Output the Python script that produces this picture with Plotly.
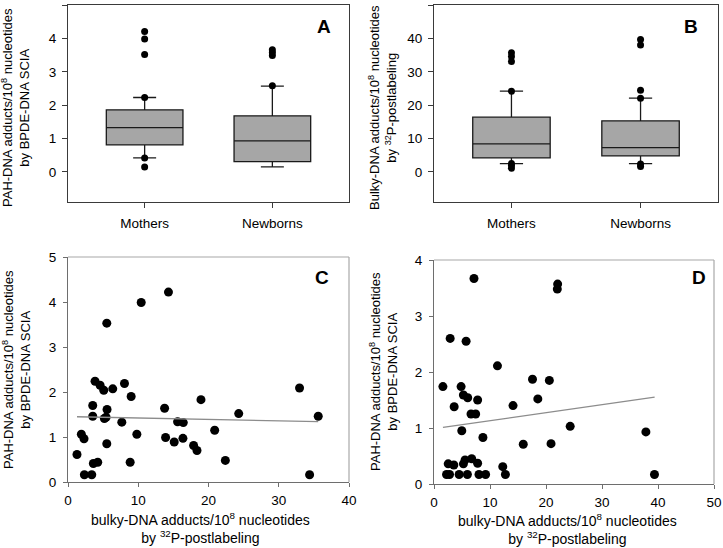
import plotly.graph_objects as go

W, H = 723, 548

groups = ["Mothers", "Newborns"]

# box plot stats (PAH-DNA, BPDE-DNA SCIA)
a_q1 = [0.81, 0.31]
a_median = [1.33, 0.93]
a_q3 = [1.86, 1.68]
a_low = [0.42, 0.15]
a_high = [2.23, 2.57]
a_mothers_pts = [4.21, 3.98, 3.52, 2.23, 0.42, 0.15]
a_newborns_pts = [3.66, 3.58, 3.49, 2.58]

# panel B (bulky-DNA, 32P-postlabeling)
b_q1 = [4.2, 4.8]
b_median = [8.4, 7.3]
b_q3 = [16.4, 15.3]
b_low = [2.5, 2.5]
b_high = [24.2, 22.1]
b_mothers_pts = [35.7, 34.6, 33.1, 24.2, 2.5, 1.9, 1.1]
b_newborns_pts = [39.7, 38.0, 24.5, 22.1, 2.4, 1.6]

# panel C scatter (mothers)
c_x = [1.28, 1.90, 2.28, 2.33, 3.38, 3.52, 3.52, 3.61, 4.23, 3.85, 4.57, 5.09, 6.37,
       5.52, 5.56, 5.42, 5.18, 5.52, 8.04, 7.66, 8.99, 8.85, 9.80, 10.42, 14.30, 13.75,
       13.89, 15.12, 15.60, 16.41, 16.36, 17.88, 18.36, 18.93, 20.88, 22.40, 24.30,
       32.96, 34.39, 35.62]
c_y = [0.61, 1.06, 0.96, 0.16, 0.16, 1.70, 1.46, 0.41, 0.44, 2.24, 2.15, 2.04, 2.07,
       3.53, 1.61, 1.44, 1.41, 0.85, 2.19, 1.33, 1.90, 0.44, 1.06, 3.99, 4.22, 1.64,
       0.99, 0.89, 1.34, 1.32, 0.97, 0.81, 0.70, 1.83, 1.15, 0.48, 1.52,
       2.09, 0.16, 1.46]
c_fit_x = [1.28, 35.62]
c_fit_y = [1.45, 1.34]

# panel D scatter (newborns)
d_x = [1.59, 2.54, 2.24, 2.77, 3.54, 2.89, 3.60, 4.49, 4.84, 4.96, 5.25, 5.25, 5.55,
       5.73, 6.02, 5.96, 6.73, 6.61, 7.44, 7.14, 7.79, 7.79, 8.03, 8.74, 9.21, 11.33,
       12.28, 12.75, 14.11, 15.94, 17.59, 18.54, 20.60, 20.90, 22.08, 22.02, 24.32,
       37.84, 39.37]
d_y = [1.74, 0.36, 0.17, 0.17, 0.34, 2.60, 1.38, 0.17, 1.74, 0.95, 1.59, 0.36, 0.43,
       2.55, 1.54, 0.17, 0.45, 1.25, 1.25, 3.67, 1.50, 0.37, 0.17, 0.83, 0.17, 2.11,
       0.31, 0.17, 1.40, 0.71, 1.87, 1.52, 1.85, 0.72, 3.57, 3.48, 1.03,
       0.93, 0.17]
d_fit_x = [1.6, 39.4]
d_fit_y = [1.01, 1.55]

pah_title = "PAH-DNA adducts/10<sup>8</sup> nucleotides<br>by BPDE-DNA SCIA"
bulky_title = "Bulky-DNA adducts/10<sup>8</sup> nucleotides<br>by <sup>32</sup>P-postlabeling"
bulky_x_title = "bulky-DNA adducts/10<sup>8</sup> nucleotides<br>by <sup>32</sup>P-postlabeling"

FONT = "Liberation Sans, Arial, sans-serif"
BOX_FILL = "#a6a6a6"


def px_dom(a, b, total):
    return [a / total, b / total]


def py_dom(top, bottom):
    return [1 - bottom / H, 1 - top / H]


fig = go.Figure()


def add_boxes(q1, med, q3, low, high, xa, ya):
    fig.add_trace(go.Box(
        x=groups, q1=q1, median=med, q3=q3, lowerfence=low, upperfence=high,
        width=0.6, whiskerwidth=0.3, fillcolor=BOX_FILL,
        line=dict(color="#1a1a1a", width=1.3), xaxis=xa, yaxis=ya,
        boxpoints=False, showlegend=False, hoverinfo="skip",
    ))


def add_dots(xs, ys, xa, ya, size):
    fig.add_trace(go.Scatter(
        x=xs, y=ys, mode="markers", marker=dict(color="black", size=size),
        xaxis=xa, yaxis=ya, showlegend=False, hoverinfo="skip",
    ))


add_boxes(a_q1, a_median, a_q3, a_low, a_high, "x", "y")
add_dots(["Mothers"] * len(a_mothers_pts), a_mothers_pts, "x", "y", 7)
add_dots(["Newborns"] * len(a_newborns_pts), a_newborns_pts, "x", "y", 7)

add_boxes(b_q1, b_median, b_q3, b_low, b_high, "x2", "y2")
add_dots(["Mothers"] * len(b_mothers_pts), b_mothers_pts, "x2", "y2", 7)
add_dots(["Newborns"] * len(b_newborns_pts), b_newborns_pts, "x2", "y2", 7)

add_dots(c_x, c_y, "x3", "y3", 9)
fig.add_trace(go.Scatter(x=c_fit_x, y=c_fit_y, mode="lines", line=dict(color="#8c8c8c", width=1.3),
                         xaxis="x3", yaxis="y3", showlegend=False, hoverinfo="skip"))

add_dots(d_x, d_y, "x4", "y4", 9)
fig.add_trace(go.Scatter(x=d_fit_x, y=d_fit_y, mode="lines", line=dict(color="#8c8c8c", width=1.3),
                         xaxis="x4", yaxis="y4", showlegend=False, hoverinfo="skip"))

tick_font = dict(family=FONT, size=13.5, color="black")
box_axis = dict(showline=True, mirror=True, linecolor="#3a3a3a", linewidth=1.2, ticks="outside",
                ticklen=5, tickcolor="#3a3a3a", showgrid=False, zeroline=False, tickfont=tick_font,
                automargin=False)
sc_axis = dict(showline=True, mirror=False, linecolor="#6e6e6e", linewidth=1.2, ticks="outside",
               ticklen=4, tickcolor="#6e6e6e", showgrid=False, zeroline=False, tickfont=tick_font,
               automargin=False)

fig.update_layout(
    width=W, height=H, margin=dict(l=0, r=0, t=0, b=0),
    paper_bgcolor="white", plot_bgcolor="white",
    font=dict(family=FONT, color="black"),
    xaxis=dict(box_axis, domain=px_dom(68, 349, W), range=[-0.6, 1.6], type="category",
               anchor="y", ticklabelstandoff=4),
    yaxis=dict(box_axis, domain=py_dom(5, 202), range=[-0.9, 5], tickvals=[0, 1, 2, 3, 4, 5], anchor="x",
               ticklabelstandoff=3),
    xaxis2=dict(box_axis, domain=px_dom(434, 718, W), range=[-0.6, 1.6], type="category",
                anchor="y2", ticklabelstandoff=4),
    yaxis2=dict(box_axis, domain=py_dom(5, 202), range=[-9, 50], tickvals=[0, 10, 20, 30, 40, 50], anchor="x2",
                ticklabelstandoff=3),
    xaxis3=dict(sc_axis, domain=px_dom(68, 349, W), range=[0, 40], tickvals=[0, 10, 20, 30, 40], anchor="y3",
                ticklabelstandoff=2),
    yaxis3=dict(sc_axis, domain=py_dom(257, 482), range=[0, 5], tickvals=[0, 1, 2, 3, 4, 5], anchor="x3",
                ticklabelstandoff=4),
    xaxis4=dict(sc_axis, domain=px_dom(434, 714, W), range=[0, 50], tickvals=[0, 10, 20, 30, 40, 50], anchor="y4",
                ticklabelstandoff=2),
    yaxis4=dict(sc_axis, domain=py_dom(260, 484), range=[0, 4], tickvals=[0, 1, 2, 3, 4], anchor="x4",
                ticklabelstandoff=4),
)

# lighter top/right frame on the scatter panels
for xr, yr in [("x3", "y3"), ("x4", "y4")]:
    fig.add_shape(type="line", xref=f"{xr} domain", yref=f"{yr} domain", x0=0, x1=1, y0=1, y1=1,
                  line=dict(color="#a8a8a8", width=1.2))
    fig.add_shape(type="line", xref=f"{xr} domain", yref=f"{yr} domain", x0=1, x1=1, y0=0, y1=1,
                  line=dict(color="#a8a8a8", width=1.2))

title_font = dict(family=FONT, size=13, color="black")
x_title_font = dict(family=FONT, size=14, color="black")
notes = [
    (16, 108, pah_title, -90, title_font),
    (383, 108, bulky_title, -90, title_font),
    (16, 370, pah_title, -90, title_font),
    (383, 372, pah_title, -90, title_font),
    (200, 528, bulky_x_title, 0, x_title_font),
    (567, 529, bulky_x_title, 0, x_title_font),
]
for x, y, text, ang, f in notes:
    fig.add_annotation(x=x / W, y=1 - y / H, xref="paper", yref="paper", text=text, textangle=ang,
                       showarrow=False, font=f, xanchor="center", yanchor="middle")

letters = [("A", 333, 26), ("B", 700, 26), ("C", 331, 277), ("D", 708, 277)]
for t, x, y in letters:
    fig.add_annotation(x=x / W, y=1 - y / H, xref="paper", yref="paper", text=f"<b>{t}</b>",
                       showarrow=False, font=dict(family=FONT, size=19, color="black"),
                       xanchor="right", yanchor="middle")

# the page body has a default 8px margin; drop it so the figure sits at 0,0
fig.write_html("out.html", config={"displayModeBar": False},
               post_script="document.body.style.margin = '0px';")
